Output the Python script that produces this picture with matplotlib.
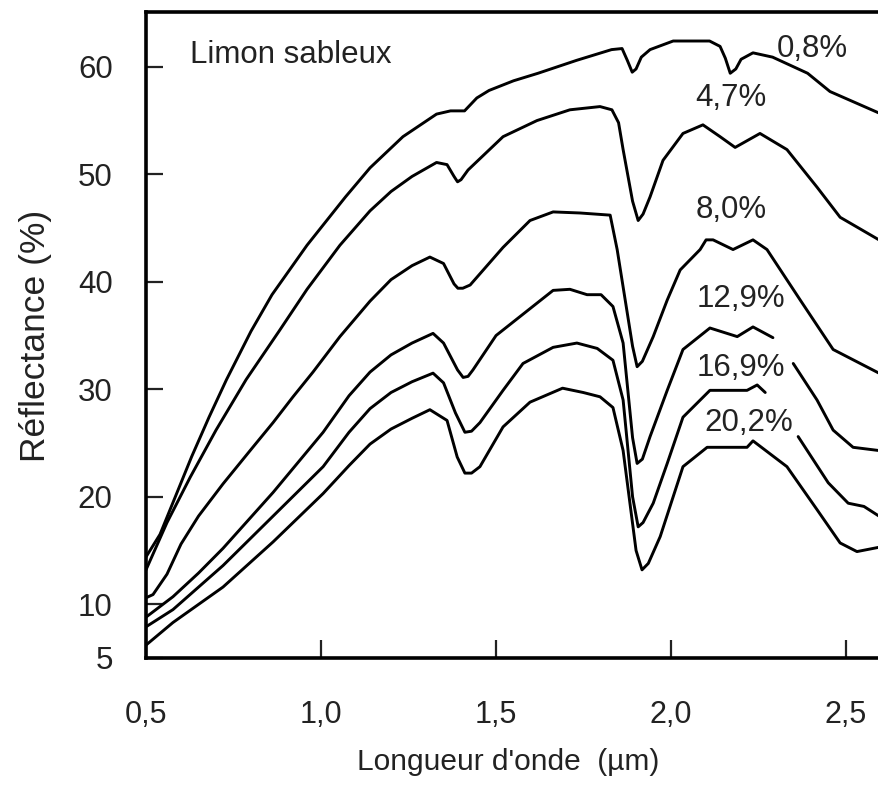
import numpy as np
import matplotlib
matplotlib.use("Agg")
import matplotlib.pyplot as plt

plt.rcParams['font.family'] = ['Liberation Sans', 'DejaVu Sans']

## Spectres de réflectance, limon sableux, 6 teneurs en eau
## (nan = trou du trait sous l'étiquette)
nan = np.nan

wl_08 = [0.50, 0.54, 0.58, 0.63, 0.68, 0.73, 0.80, 0.86, 0.96, 1.07, 1.14, 1.234, 1.33, 1.37, 1.41,
         1.445, 1.48, 1.55, 1.62, 1.73, 1.83, 1.86, 1.875, 1.889, 1.90, 1.915, 1.94, 2.006, 2.11,
         2.14, 2.155, 2.169, 2.185, 2.20, 2.234, 2.29, 2.39, 2.454, 2.594]
r_08 = [14.4, 16.5, 19.7, 23.7, 27.4, 30.9, 35.4, 38.8, 43.4, 47.9, 50.6, 53.5, 55.6, 55.9, 55.9,
        57.1, 57.8, 58.7, 59.4, 60.6, 61.6, 61.7, 60.6, 59.5, 59.8, 60.9, 61.6, 62.4, 62.4,
        61.9, 60.8, 59.4, 59.8, 60.7, 61.3, 60.9, 59.4, 57.7, 55.7]

wl_47 = [0.50, 0.56, 0.626, 0.70, 0.786, 0.88, 0.96, 1.054, 1.14, 1.20, 1.26, 1.33, 1.36, 1.38,
         1.39, 1.40, 1.42, 1.52, 1.617, 1.711, 1.797, 1.831, 1.85, 1.863, 1.89, 1.906, 1.92, 1.94,
         1.977, 2.034, 2.091, 2.14, 2.183, 2.254, 2.331, 2.417, 2.483, 2.594]
r_47 = [13.2, 17.6, 21.8, 26.2, 30.9, 35.4, 39.3, 43.4, 46.6, 48.4, 49.8, 51.1, 50.9, 49.8,
        49.3, 49.5, 50.4, 53.5, 55.0, 56.0, 56.3, 56.0, 54.8, 52.3, 47.5, 45.7, 46.3, 47.9,
        51.3, 53.8, 54.6, 53.5, 52.5, 53.8, 52.3, 48.8, 46.0, 43.9]

wl_80 = [0.50, 0.52, 0.56, 0.60, 0.65, 0.72, 0.80, 0.863, 0.92, 0.977, 1.054, 1.14, 1.20, 1.26,
         1.311, 1.35, 1.38, 1.391, 1.405, 1.426, 1.52, 1.597, 1.663, 1.74, 1.826, 1.846, 1.89,
         1.903, 1.918, 1.949, 1.989, 2.026, 2.083, 2.10, 2.12, 2.177, 2.234, 2.274, 2.369, 2.463,
         2.594]
r_80 = [10.6, 10.9, 12.8, 15.6, 18.2, 21.2, 24.4, 26.9, 29.3, 31.6, 34.9, 38.2, 40.2, 41.5,
        42.3, 41.7, 39.8, 39.4, 39.4, 39.7, 43.2, 45.7, 46.5, 46.4, 46.2, 43.0, 34.0,
        32.1, 32.6, 34.9, 38.3, 41.1, 43.0, 43.9, 43.9, 43.0, 43.9, 43.0, 38.3, 33.7,
        31.5]

wl_129 = [0.50, 0.577, 0.65, 0.72, 0.863, 1.006, 1.08, 1.14, 1.20, 1.26, 1.32, 1.35, 1.39, 1.406,
          1.42, 1.434, 1.50, 1.663, 1.711, 1.76, 1.80, 1.834, 1.863, 1.89, 1.903, 1.918, 1.94,
          1.989, 2.034, 2.111, 2.189, 2.234, 2.291, 2.32, 2.349, 2.417, 2.463, 2.52, 2.594]
r_129 = [8.8, 10.7, 12.9, 15.2, 20.4, 26.0, 29.4, 31.6, 33.2, 34.3, 35.2, 34.3, 31.8, 31.1,
         31.2, 31.8, 35.0, 39.2, 39.3, 38.8, 38.8, 37.7, 34.3, 25.5, 23.1, 23.5, 25.6,
         29.9, 33.7, 35.7, 34.9, 35.8, 34.8, nan, 32.4, 29.0, 26.2, 24.6, 24.3]

wl_169 = [0.50, 0.577, 0.72, 0.863, 1.006, 1.08, 1.14, 1.20, 1.26, 1.32, 1.35, 1.384, 1.411,
          1.43, 1.454, 1.52, 1.577, 1.663, 1.731, 1.789, 1.834, 1.863, 1.89, 1.906, 1.92, 1.949,
          1.989, 2.034, 2.111, 2.217, 2.246, 2.269, 2.32, 2.363, 2.449, 2.506, 2.551, 2.594]
r_169 = [7.9, 9.5, 13.6, 18.2, 22.8, 26.0, 28.2, 29.7, 30.7, 31.5, 30.6, 27.8, 26.0,
         26.1, 26.9, 29.9, 32.4, 33.9, 34.3, 33.8, 32.7, 29.0, 20.0, 17.2, 17.6, 19.4,
         23.1, 27.4, 29.9, 29.9, 30.4, 29.7, nan, 25.6, 21.3, 19.4, 19.1, 18.2]

wl_202 = [0.50, 0.577, 0.72, 0.863, 1.006, 1.08, 1.14, 1.20, 1.26, 1.311, 1.36, 1.389, 1.411,
          1.43, 1.454, 1.52, 1.597, 1.69, 1.749, 1.797, 1.834, 1.863, 1.90, 1.917, 1.935, 1.969,
          2.034, 2.103, 2.217, 2.234, 2.331, 2.417, 2.483, 2.531, 2.594]
r_202 = [6.2, 8.3, 11.6, 15.8, 20.3, 22.9, 24.9, 26.3, 27.3, 28.1, 27.1, 23.7, 22.2,
         22.2, 22.8, 26.5, 28.8, 30.1, 29.7, 29.3, 28.3, 24.3, 15.0, 13.2, 13.8, 16.3,
         22.8, 24.6, 24.6, 25.2, 22.8, 18.8, 15.7, 14.9, 15.3]

series_labels = ['0,8%', '4,7%', '8,0%', '12,9%', '16,9%', '20,2%']
series_wl = [wl_08, wl_47, wl_80, wl_129, wl_169, wl_202]
series_r = [r_08, r_47, r_80, r_129, r_169, r_202]

x_ticks = [0.5, 1.0, 1.5, 2.0, 2.5]
x_ticklabels = ['0,5', '1,0', '1,5', '2,0', '2,5']
y_ticks = [5, 10, 20, 30, 40, 50, 60]
y_ticklabels = ['5', '10', '20', '30', '40', '50', '60']

# where the curve names sit (x, y in data units)
label_pos = [(2.403, 61.7), (2.171, 57.1), (2.171, 46.7), (2.200, 38.4), (2.200, 32.0), (2.223, 26.9)]


fig = plt.figure(figsize=(8.79, 7.94), dpi=100)
ax = fig.add_axes([0.1661, 0.1713, 0.8339, 0.8136])

for wl, r in zip(series_wl, series_r):
    ax.plot(wl, r, color='black', lw=2.1, solid_capstyle='round', solid_joinstyle='round')

for name, (lx, ly) in zip(series_labels, label_pos):
    ax.text(lx, ly, name, fontsize=22.5, ha='center', va='center', color='#222222')

ax.text(0.626, 61.1, 'Limon sableux', fontsize=22.5, ha='left', va='center', color='#222222')

ax.set_xlim(0.5, 2.594)
ax.set_ylim(5, 65.1)

ax.set_xticks(x_ticks)
ax.set_xticklabels(x_ticklabels)
ax.set_yticks(y_ticks)
ax.set_yticklabels(y_ticklabels)

ax.tick_params(axis='x', direction='in', length=13, width=1.6, pad=30, labelsize=22, colors='#222222')
ax.tick_params(axis='y', direction='in', length=12, width=1.6, pad=24, labelsize=22.5, colors='#222222')

for side in ['left', 'bottom', 'top']:
    ax.spines[side].set_linewidth(2.6)
ax.spines['right'].set_visible(False)

ax.set_xlabel("Longueur d'onde  (µm)", fontsize=21.5, color='#222222')
ax.set_ylabel('Réflectance (%)', fontsize=25.5, color='#222222')
ax.xaxis.set_label_coords(0.494, -0.140)
ax.yaxis.set_label_coords(-0.128, 0.498)

fig.savefig('out.png', dpi=100)
